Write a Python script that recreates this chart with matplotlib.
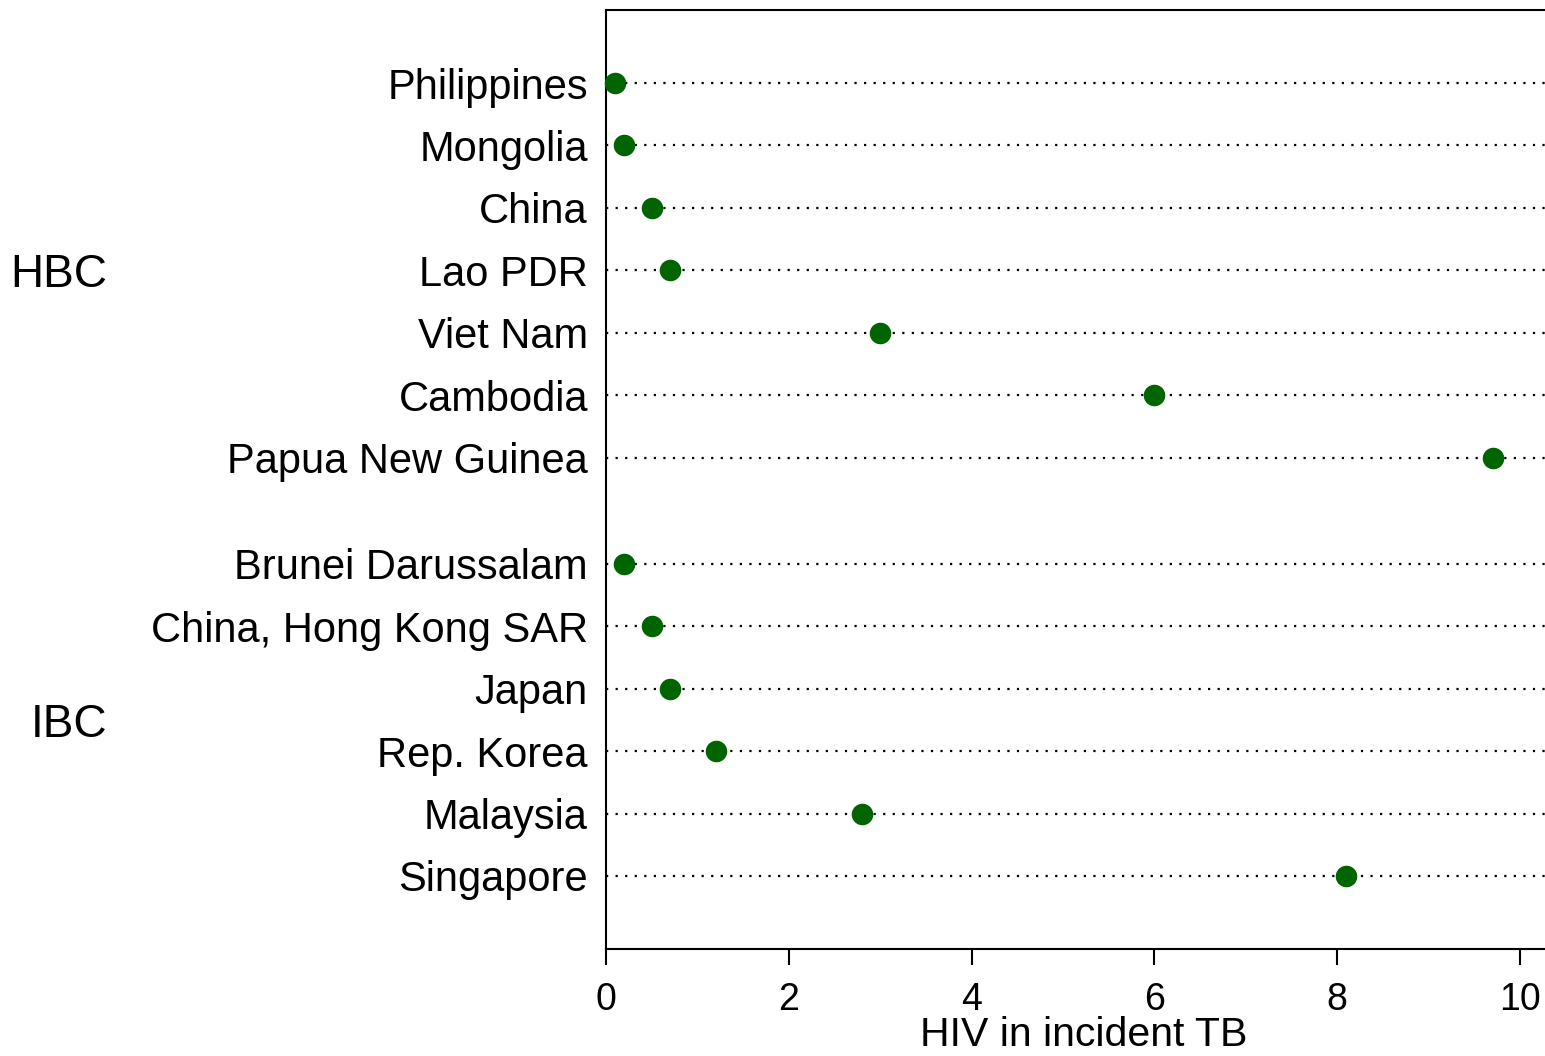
import matplotlib
matplotlib.use("Agg")
import matplotlib.pyplot as plt
import matplotlib.transforms as mtransforms

plt.rcParams['font.family'] = ['Liberation Sans', 'DejaVu Sans']

hbc_countries = ["Philippines", "Mongolia", "China", "Lao PDR", "Viet Nam",
                 "Cambodia", "Papua New Guinea"]
hbc_values = [0.1, 0.2, 0.5, 0.7, 3.0, 6.0, 9.7]
ibc_countries = ["Brunei Darussalam", "China, Hong Kong SAR", "Japan",
                 "Rep. Korea", "Malaysia", "Singapore"]
ibc_values = [0.2, 0.5, 0.7, 1.2, 2.8, 8.1]
group_labels = ["HBC", "IBC"]
xticks = [0, 2, 4, 6, 8, 10]
xlabel = "HIV in incident TB"

# y positions: IBC rows bottom-up, then a gap, then HBC rows
n_ibc = len(ibc_countries)
n_hbc = len(hbc_countries)
gap = 1.7
ibc_y = [n_ibc - i for i in range(n_ibc)]               # 6..1
hbc_y = [n_ibc + gap + (n_hbc - 1 - i) for i in range(n_hbc)]

fig = plt.figure(figsize=(15.45, 10.56), dpi=100)
ax = fig.add_axes([606/1545, 107/1056, 956/1545, 939/1056])
ax.set_xlim(0, 10.46)
ax.set_ylim(-0.17, hbc_y[0] + 1.17)

green = "#006400"
for ys, vals in ((hbc_y, hbc_values), (ibc_y, ibc_values)):
    for y in ys:
        ax.axhline(y, color="black", lw=1.6, linestyle=(0, (1, 3.3)), zorder=1)
    ax.plot(vals, ys, "o", color=green, markersize=14.5, zorder=3, clip_on=False)

ax.set_yticks(hbc_y + ibc_y)
ax.set_yticklabels(hbc_countries + ibc_countries, fontsize=30,
                   va="center_baseline")
ax.tick_params(axis="y", length=0, pad=13)
ax.set_xticks(xticks)
ax.set_xticklabels([str(t) for t in xticks], fontsize=27)
ax.tick_params(axis="x", length=11.5, width=1.5, pad=12, direction="out")
ax.set_xlabel(xlabel, fontsize=29.5, labelpad=-1)
for s in ax.spines.values():
    s.set_linewidth(1.5)

trans = mtransforms.blended_transform_factory(fig.transFigure, ax.transData)
ax.text(107/1545, sum(hbc_y)/len(hbc_y), group_labels[0], transform=trans,
        ha="right", va="center_baseline", fontsize=33)
ax.text(107/1545, sum(ibc_y)/len(ibc_y), group_labels[1], transform=trans,
        ha="right", va="center_baseline", fontsize=33)

fig.savefig("out.png", dpi=100)
